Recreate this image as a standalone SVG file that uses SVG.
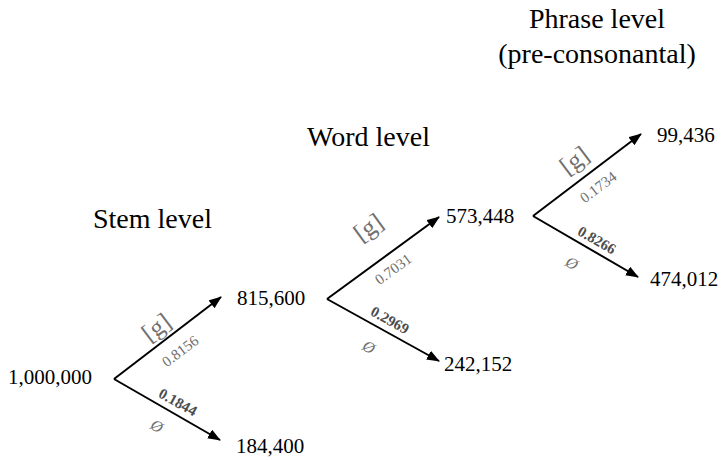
<svg xmlns="http://www.w3.org/2000/svg" width="727" height="460" viewBox="0 0 727 460">
<defs>
<marker id="ah" viewBox="0 0 13 10" refX="12" refY="5" markerWidth="13" markerHeight="10" markerUnits="userSpaceOnUse" orient="auto">
<path d="M0,0 L13,5 L0,10 Z" fill="#000"/>
</marker>
<style>
text{font-family:"Liberation Serif","DejaVu Serif",serif}
.title{font-size:28px;fill:#000}
.num{font-size:21px;fill:#000}
.g{font-size:25px;fill:#707070;text-anchor:middle}
.p{font-size:15px;fill:#707070;text-anchor:middle}
.pb{font-size:15px;fill:#4d4d4d;font-weight:bold;text-anchor:middle}
.z{font-size:16px;fill:#707070;font-style:italic;text-anchor:middle}
.c{stroke:#000;stroke-width:2;fill:none;marker-end:url(#ah)}
</style>
</defs>
<rect width="727" height="460" fill="#fff"/>
<g id="titles">
<text class="title" x="93" y="228">Stem level</text>
<text class="title" x="307" y="146">Word level</text>
<text class="title" x="597" y="28" text-anchor="middle">Phrase level</text>
<text class="title" x="597" y="63" text-anchor="middle">(pre-consonantal)</text>
</g>
<g id="connectors">
<line class="c" x1="114" y1="379" x2="221" y2="297"/>
<line class="c" x1="114" y1="379" x2="220" y2="440"/>
<line class="c" x1="327" y1="299" x2="439" y2="217"/>
<line class="c" x1="327" y1="299" x2="439" y2="361"/>
<line class="c" x1="533" y1="216" x2="641" y2="134"/>
<line class="c" x1="533" y1="216" x2="638" y2="277"/>
</g>
<g id="edge-labels">
<text class="g" transform="translate(156,327) rotate(-37)" dy=".35em">[g]</text>
<text class="p" transform="translate(180,351) rotate(-37)" dy=".35em">0.8156</text>
<text class="pb" transform="translate(178,402) rotate(29)" dy=".35em">0.1844</text>
<text class="z" transform="translate(157,426) rotate(29)" dy=".35em">Ø</text>
<text class="g" transform="translate(368,227) rotate(-36)" dy=".35em">[g]</text>
<text class="p" transform="translate(393,269) rotate(-36)" dy=".35em">0.7031</text>
<text class="pb" transform="translate(390,320) rotate(29)" dy=".35em">0.2969</text>
<text class="z" transform="translate(369,347) rotate(29)" dy=".35em">Ø</text>
<text class="g" transform="translate(574,160) rotate(-37)" dy=".35em">[g]</text>
<text class="p" transform="translate(598,187) rotate(-37)" dy=".35em">0.1734</text>
<text class="pb" transform="translate(597,240) rotate(30)" dy=".35em">0.8266</text>
<text class="z" transform="translate(572,263) rotate(30)" dy=".35em">Ø</text>
</g>
<g id="n-root"><text class="num" x="8" y="384">1,000,000</text></g>
<g id="n-stem-g"><text class="num" x="237" y="305">815,600</text></g>
<g id="n-stem-0"><text class="num" x="236" y="453">184,400</text></g>
<g id="n-word-g"><text class="num" x="446" y="223">573,448</text></g>
<g id="n-word-0"><text class="num" x="444" y="371">242,152</text></g>
<g id="n-phrase-g"><text class="num" x="657" y="142">99,436</text></g>
<g id="n-phrase-0"><text class="num" x="650" y="286">474,012</text></g>
</svg>
